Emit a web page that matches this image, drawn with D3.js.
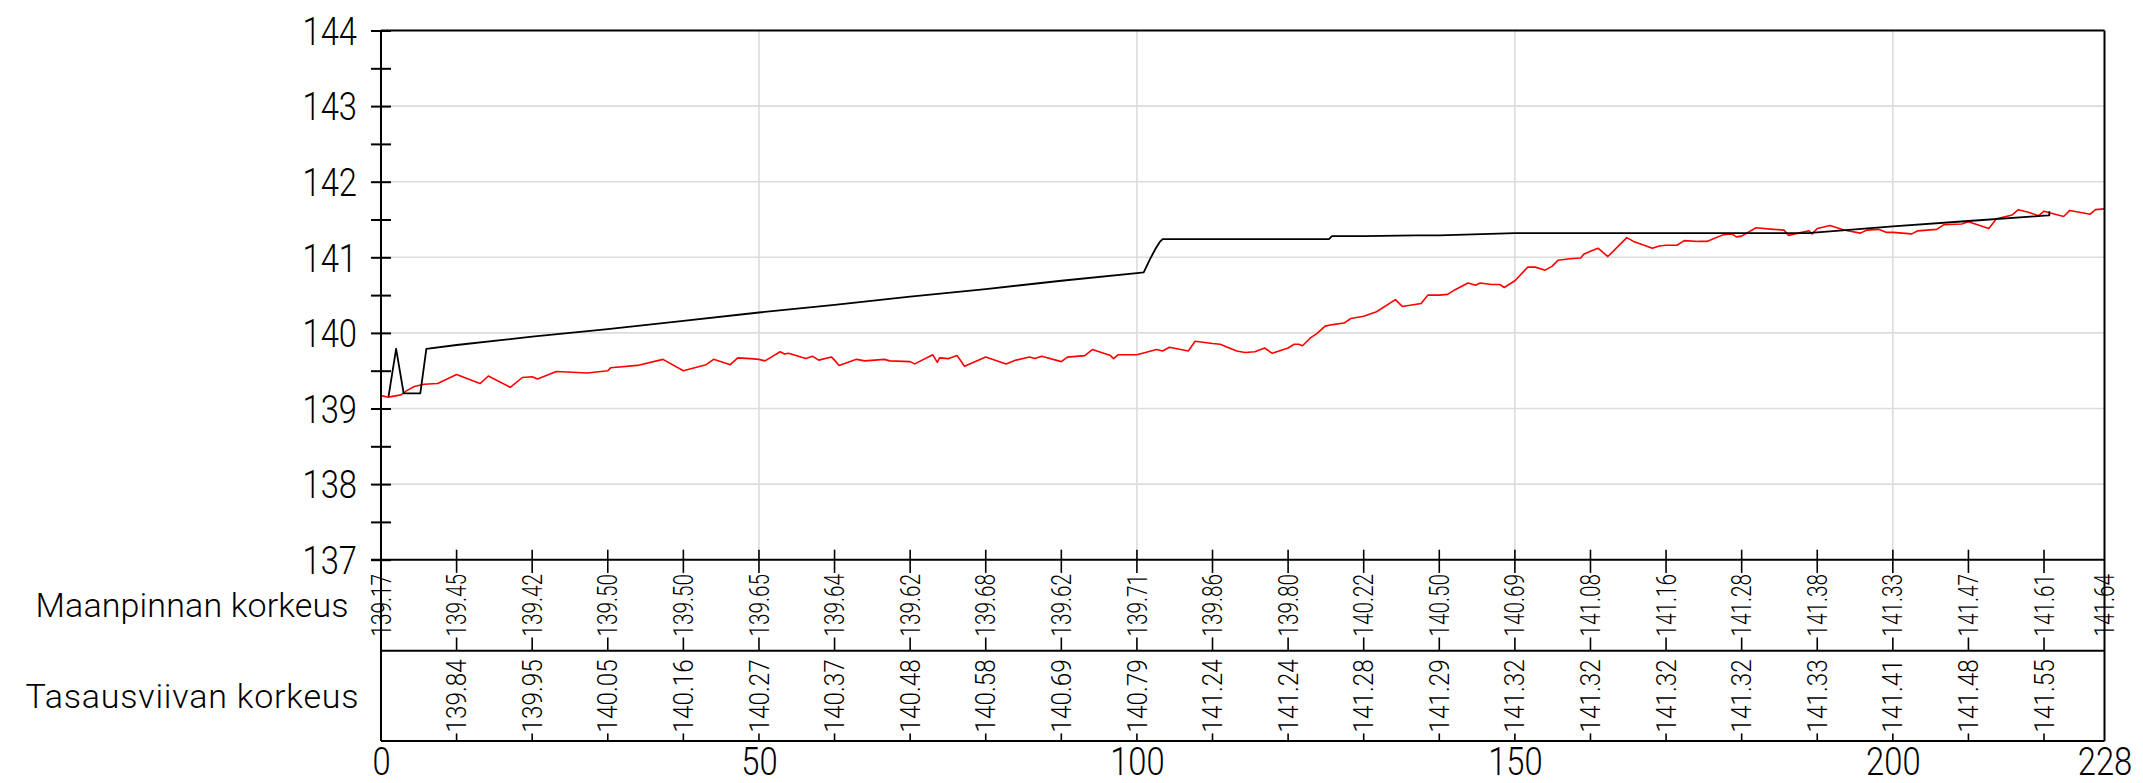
<!DOCTYPE html>
<html>
<head>
<meta charset="utf-8">
<script src="https://cdn.jsdelivr.net/npm/d3@7/dist/d3.min.js"></script>
<style>
  html, body { margin: 0; padding: 0; background: #fff; }
  svg { display: block; }
  text { font-family: Roboto, "DejaVu Sans", sans-serif; font-weight: 300; fill: #000; }
</style>
</head>
<body>
<svg id="chart" width="2143" height="783"></svg>
<script>
// Profile stations (m) shown in the table
const tableStations = [0, 10, 20, 30, 40, 50, 60, 70, 80, 90, 100, 110, 120, 130, 140, 150, 160, 170, 180, 190, 200, 210, 220, 228];
// Ground elevation (Maanpinnan korkeus) at the table stations
const groundLabels = [139.17, 139.45, 139.42, 139.50, 139.50, 139.65, 139.64, 139.62, 139.68, 139.62, 139.71, 139.86, 139.80, 140.22, 140.50, 140.69, 141.08, 141.16, 141.28, 141.38, 141.33, 141.47, 141.61, 141.64];
// Grade line elevation (Tasausviivan korkeus) at the table stations
const designStations = [10, 20, 30, 40, 50, 60, 70, 80, 90, 100, 110, 120, 130, 140, 150, 160, 170, 180, 190, 200, 210, 220];
const designLabels = [139.84, 139.95, 140.05, 140.16, 140.27, 140.37, 140.48, 140.58, 140.69, 140.79, 141.24, 141.24, 141.28, 141.29, 141.32, 141.32, 141.32, 141.32, 141.33, 141.41, 141.48, 141.55];

// Intermediate ground survey points [station, elevation]
const groundSurvey = [
  [0.97,139.15],[2.65,139.18],[3.3,139.23],[4.4,139.29],[5.7,139.32],[7.5,139.33],[13.1,139.33],[14.2,139.43],
  [17.1,139.28],[18.7,139.41],[20.7,139.39],[23.2,139.49],[27.3,139.47],[30.4,139.54],[33.9,139.57],[37.3,139.65],
  [43.0,139.58],[44.0,139.65],[46.2,139.58],[47.2,139.67],[48.9,139.66],[50.8,139.63],[52.8,139.75],[53.4,139.72],
  [53.9,139.73],[56.2,139.66],[57.1,139.69],[57.9,139.64],[59.6,139.68],[60.6,139.57],[62.9,139.65],[64.0,139.63],
  [66.6,139.65],[67.3,139.63],[70.6,139.59],[73.0,139.71],[73.6,139.61],[73.9,139.67],[75.1,139.66],[76.2,139.70],
  [77.2,139.56],[82.7,139.59],[84.0,139.64],[85.8,139.68],[86.5,139.66],[87.4,139.69],[90.8,139.68],[93.1,139.70],
  [94.1,139.78],[96.5,139.70],[96.9,139.66],[97.5,139.71],[102.6,139.78],[103.4,139.76],[104.3,139.81],[106.8,139.76],
  [107.7,139.89],[111.0,139.85],[113.2,139.76],[114.3,139.74],[115.6,139.75],[116.9,139.80],[117.9,139.73],[120.8,139.85],
  [121.4,139.85],[121.9,139.83],[122.9,139.93],[123.8,139.99],[124.9,140.09],[125.9,140.11],[127.4,140.13],[128.3,140.19],
  [131.7,140.28],[134.2,140.44],[135.1,140.35],[137.6,140.39],[138.5,140.50],[141.1,140.51],[141.9,140.56],[143.8,140.66],
  [144.8,140.63],[145.4,140.66],[146.9,140.64],[148.0,140.64],[148.6,140.60],[151.7,140.87],[152.7,140.87],[154.0,140.83],
  [154.9,140.88],[155.7,140.96],[157.3,140.98],[158.7,140.99],[159.1,141.04],[161.0,141.12],[162.3,141.01],[164.8,141.26],
  [165.7,141.21],[168.2,141.12],[169.1,141.15],[171.45,141.16],[172.4,141.22],[174.3,141.21],[175.4,141.21],[177.6,141.30],
  [178.7,141.31],[179.3,141.27],[181.9,141.39],[184.2,141.37],[185.6,141.36],[186.2,141.29],[188.4,141.34],[188.9,141.35],
  [189.3,141.31],[191.7,141.42],[193.5,141.36],[195.7,141.32],[196.6,141.36],[198.1,141.37],[199.1,141.33],[202.5,141.31],
  [203.3,141.35],[205.8,141.37],[206.7,141.43],[209.1,141.44],[212.7,141.38],[213.7,141.51],[215.8,141.56],[216.6,141.63],
  [217.8,141.60],[219.3,141.55],[220.7,141.59],[222.6,141.54],[223.4,141.62],[226.1,141.57],[226.8,141.63]
];

// Grade line break points between the table stations [station, elevation]
const designBreaks = [
  [1.0,139.16],[2.0,139.79],[3.0,139.20],[5.2,139.20],[6.0,139.79],
  [100.9,140.80],[101.7,140.97],[102.5,141.12],[103.0,141.20],[103.4,141.24],
  [125.4,141.24],[125.8,141.28],[137.0,141.29],[188.8,141.32],
  [220.7,141.555],[220.7,141.61]
];

const yTicks = [137, 138, 139, 140, 141, 142, 143, 144];
const xTicks = [0, 50, 100, 150, 200, 228];
const rowTitles = ["Maanpinnan korkeus", "Tasausviivan korkeus"];

// ---- layout ----
const svg = d3.select("#chart");
const plotLeft = 381, plotRight = 2104.5, plotTop = 30.5, plotBottom = 559.7;
const row1Bottom = 650.7, row2Bottom = 741;

const x = d3.scaleLinear().domain([0, 228]).range([plotLeft, plotRight]);
const y = d3.scaleLinear().domain([137, 144]).range([plotBottom, plotTop]);

const groundPts = tableStations.map((s, i) => [s, groundLabels[i]])
  .concat(groundSurvey).sort((a, b) => a[0] - b[0]);
const designPts = designStations.map((s, i) => [s, designLabels[i]])
  .concat(designBreaks).sort((a, b) => a[0] - b[0]);

// gridlines
const grid = svg.append("g").attr("stroke", "#dcdcdc").attr("stroke-width", 1.6);
grid.selectAll("line.h").data(yTicks.filter(v => v > 137 && v < 144)).join("line")
  .attr("x1", plotLeft).attr("x2", plotRight).attr("y1", d => y(d)).attr("y2", d => y(d));
grid.selectAll("line.v").data(xTicks.filter(v => v > 0 && v < 228)).join("line")
  .attr("x1", d => x(d)).attr("x2", d => x(d)).attr("y1", plotTop).attr("y2", plotBottom);

// profile lines
const line = d3.line().x(d => x(d[0])).y(d => y(d[1]));
svg.append("path").datum(groundPts).attr("d", line)
  .attr("fill", "none").attr("stroke", "#ff0000").attr("stroke-width", 1.6).attr("stroke-linejoin", "round");
svg.append("path").datum(designPts).attr("d", line)
  .attr("fill", "none").attr("stroke", "#000").attr("stroke-width", 1.8).attr("stroke-linejoin", "round");

// y axis with crossing ticks every 0.5
const yAxis = d3.axisLeft(y).tickValues(d3.range(137, 144.01, 0.5)).tickSize(10).tickSizeOuter(0)
  .tickFormat(d => Number.isInteger(d) ? d : "");
const gy = svg.append("g").attr("transform", `translate(${plotLeft},0)`).call(yAxis);
gy.attr("font-family", null).attr("font-size", null);
gy.select(".domain").remove();
gy.selectAll(".tick line").attr("x1", 10).attr("x2", -10).attr("stroke", "#000").attr("stroke-width", 2);
gy.selectAll(".tick text")
  .attr("x", null).attr("dy", "0.355em")
  .attr("transform", "translate(-24,0) scale(0.84,1)")
  .style("font-size", "39px");

// x axis labels under the table
const xAxis = d3.axisBottom(x).tickValues(xTicks).tickSize(0).tickPadding(6).tickFormat(d3.format("d"));
const gx = svg.append("g").attr("transform", `translate(0,${row2Bottom})`).call(xAxis);
gx.attr("font-family", null).attr("font-size", null);
gx.select(".domain").remove();
gx.selectAll(".tick text")
  .attr("y", null).attr("dy", "0.71em")
  .attr("transform", "translate(0,6) scale(0.84,1)")
  .style("font-size", "39px");

// frame and table lines
const frame = svg.append("g").attr("stroke", "#000").attr("stroke-width", 2).attr("fill", "none");
frame.append("line").attr("x1", plotLeft).attr("x2", plotRight).attr("y1", plotTop).attr("y2", plotTop);
frame.append("line").attr("x1", plotLeft - 10).attr("x2", plotRight).attr("y1", plotBottom).attr("y2", plotBottom);
frame.append("line").attr("x1", plotLeft).attr("x2", plotRight).attr("y1", row1Bottom).attr("y2", row1Bottom);
frame.append("line").attr("x1", plotLeft).attr("x2", plotRight).attr("y1", row2Bottom).attr("y2", row2Bottom);
frame.append("line").attr("x1", plotLeft).attr("x2", plotLeft).attr("y1", plotTop).attr("y2", row2Bottom);
frame.append("line").attr("x1", plotRight).attr("x2", plotRight).attr("y1", plotTop).attr("y2", row2Bottom);

// row titles
const titleRows = [[plotBottom, row1Bottom, 313], [row1Bottom, row2Bottom, 333]];
rowTitles.forEach((t, i) => {
  const [a, b, len] = titleRows[i];
  svg.append("text").text(t)
    .attr("x", 192).attr("y", (a + b) / 2).attr("dy", "0.355em")
    .attr("text-anchor", "middle")
    .attr("textLength", len).attr("lengthAdjust", "spacing")
    .style("font-size", "34px");
});

// rotated station values in the table with tick segments
function tableRow(stations, values, rowTop, rowBottom, sx, topTick, bottomTick) {
  const mid = (rowTop + rowBottom) / 2;
  const ticks = svg.append("g").attr("stroke", "#000").attr("stroke-width", 1.6);
  stations.forEach((s, i) => {
    const t = svg.append("text").text(values[i].toFixed(2))
      .attr("text-anchor", "middle").attr("dy", "0.355em")
      .attr("transform", `translate(${x(s)},${mid}) rotate(-90) scale(${sx},1)`)
      .style("font-size", "27px");
    const half = t.node().getComputedTextLength() * sx / 2;
    if (s === 0 || s === 228) return;
    if (topTick) ticks.append("line").attr("x1", x(s)).attr("x2", x(s))
      .attr("y1", rowTop - (rowTop === plotBottom ? 10 : 0)).attr("y2", mid - half - 1);
    if (bottomTick) ticks.append("line").attr("x1", x(s)).attr("x2", x(s))
      .attr("y1", mid + half + 1).attr("y2", rowBottom);
  });
}
tableRow(tableStations, groundLabels, plotBottom, row1Bottom, 0.77, true, true);
tableRow(designStations, designLabels, row1Bottom, row2Bottom, 0.9, false, true);
</script>
</body>
</html>
